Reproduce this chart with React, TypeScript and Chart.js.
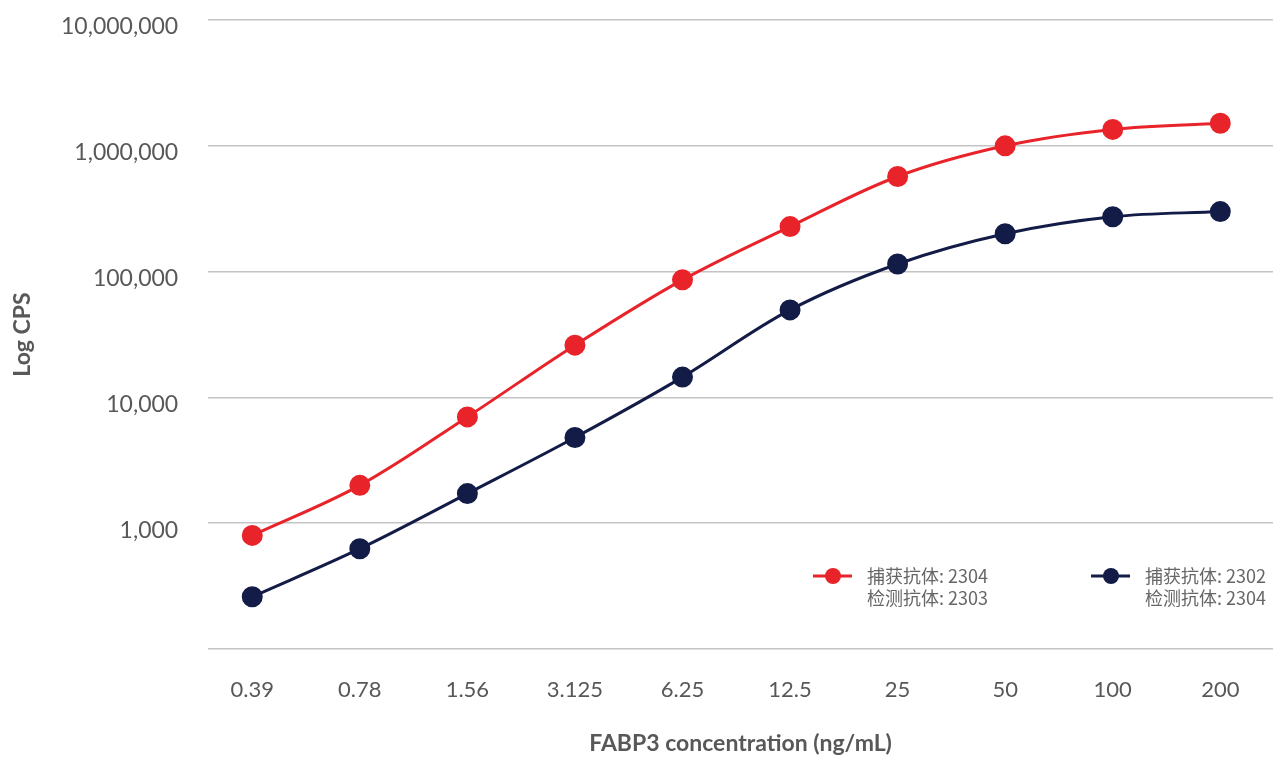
import React, { useEffect, useRef } from "react";
import { Chart, registerables } from "chart.js";

Chart.register(...registerables);

const concentrations = ["0.39", "0.78", "1.56", "3.125", "6.25", "12.5", "25", "50", "100", "200"];
const redSeries = [800, 2000, 7000, 26000, 86000, 228000, 570000, 1000000, 1350000, 1510000];
const navySeries = [260, 627, 1720, 4800, 14500, 49600, 115000, 200000, 273000, 300000];
const yTickValues = [100, 1000, 10000, 100000, 1000000, 10000000];
const redLegend = ["捕获抗体: 2304", "检测抗体: 2303"];
const navyLegend = ["捕获抗体: 2302", "检测抗体: 2304"];
const yTitle = "Log CPS";
const xTitle = "FABP3 concentration (ng/mL)";

const RED = "#e8242a";
const NAVY = "#131c47";
const GRAY = "#585858";
const FONT = "Lato, 'Noto Sans CJK SC', sans-serif";

const overlayPlugin = {
  id: "overlay",
  afterDraw(chart: any) {
    const { ctx, chartArea } = chart;
    ctx.save();
    // y-axis title
    ctx.translate(23, (chartArea.top + chartArea.bottom) / 2);
    ctx.rotate(-Math.PI / 2);
    ctx.fillStyle = GRAY;
    ctx.font = `bold 23px ${FONT}`;
    ctx.textAlign = "center";
    ctx.textBaseline = "middle";
    ctx.fillText(yTitle, 0, 0);
    ctx.restore();

    ctx.save();
    const items = [
      { color: RED, lines: redLegend, x: chartArea.right - 460 },
      { color: NAVY, lines: navyLegend, x: chartArea.right - 182 },
    ];
    const y = chartArea.bottom - 73;
    items.forEach((it) => {
      ctx.strokeStyle = it.color;
      ctx.lineWidth = 3;
      ctx.beginPath();
      ctx.moveTo(it.x, y);
      ctx.lineTo(it.x + 39, y);
      ctx.stroke();
      ctx.fillStyle = it.color;
      ctx.beginPath();
      ctx.arc(it.x + 20, y, 8, 0, Math.PI * 2);
      ctx.fill();
      ctx.fillStyle = "#666";
      ctx.font = "18px 'Noto Sans CJK SC', Lato, sans-serif";
      ctx.textBaseline = "middle";
      ctx.textAlign = "left";
      it.lines.forEach((l, i) => ctx.fillText(l, it.x + 54, y + i * 22));
    });
    ctx.restore();
  },
};

export default function App() {
  const ref = useRef<HTMLCanvasElement>(null);
  useEffect(() => {
    document.body.style.margin = "0";
    const chart = new Chart(ref.current!, {
      type: "line",
      data: {
        datasets: [
          {
            label: redLegend.join(" "),
            data: redSeries.map((v, i) => ({ x: i, y: v })),
            borderColor: RED,
            backgroundColor: RED,
            borderWidth: 3,
            pointRadius: 9,
            pointHoverRadius: 9,
            tension: 0.35,
          },
          {
            label: navyLegend.join(" "),
            data: navySeries.map((v, i) => ({ x: i, y: v })),
            borderColor: NAVY,
            backgroundColor: NAVY,
            borderWidth: 3,
            pointRadius: 9,
            pointHoverRadius: 9,
            tension: 0.35,
          },
        ],
      },
      options: {
        animation: false,
        responsive: false,
        layout: { autoPadding: false, padding: { top: 20, right: 0, left: 31, bottom: 0 } },
        plugins: { legend: { display: false }, tooltip: { enabled: false } },
        scales: {
          x: {
            type: "linear",
            min: -0.41,
            max: 9.49,
            afterBuildTicks: (axis: any) => {
              axis.ticks = concentrations.map((_, i) => ({ value: i }));
            },
            afterFit: (scale: any) => {
              scale.paddingLeft = 0;
              scale.paddingRight = 0;
            },
            ticks: {
              callback: (v: any) => concentrations[v] ?? "",
              color: GRAY,
              font: { family: FONT, size: 22 },
              padding: 28,
              maxRotation: 0,
              autoSkip: false,
            },
            grid: { display: false, drawTicks: false },
            border: { display: false },
            title: {
              display: true,
              text: xTitle,
              color: GRAY,
              font: { family: FONT, size: 23, weight: "bold" },
              padding: { top: -2, bottom: 0 },
            },
          },
          y: {
            type: "logarithmic",
            min: 100,
            max: 10000000,
            afterBuildTicks: (axis: any) => {
              axis.ticks = yTickValues.map((v) => ({ value: v }));
            },
            afterFit: (scale: any) => {
              scale.paddingTop = 0;
              scale.paddingBottom = 0;
            },
            ticks: {
              callback: (v: any) => (v === 100 ? "" : Number(v).toLocaleString("en-US")),
              color: GRAY,
              font: { family: FONT, size: 23 },
              padding: 30,
              labelOffset: 7,
            },
            grid: { color: "#c4c4c4", lineWidth: 1.5, drawTicks: false },
            border: { display: false },
          },
        },
      },
      plugins: [overlayPlugin],
    });
    return () => chart.destroy();
  }, []);
  return (
    <div style={{ width: 1273, height: 757 }}>
      <canvas ref={ref} width={1273} height={757} />
    </div>
  );
}
